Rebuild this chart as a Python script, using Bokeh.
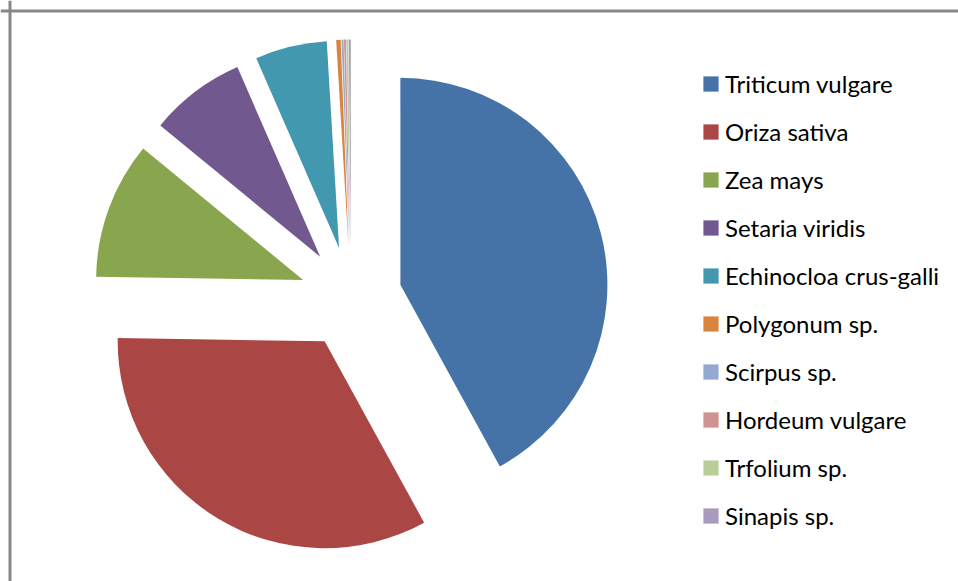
import math
from bokeh.plotting import figure
from bokeh.models import ColumnDataSource, Range1d, Span, Legend, LegendItem
from bokeh.embed import file_html
from bokeh.resources import INLINE

# ---- data (percent shares) ----
species = ["Triticum vulgare", "Oriza sativa", "Zea mays", "Setaria viridis",
           "Echinocloa crus-galli", "Polygonum sp.", "Scirpus sp.",
           "Hordeum vulgare", "Trfolium sp.", "Sinapis sp."]
shares = [42.0, 33.2, 10.7, 7.5, 5.6, 0.35, 0.15, 0.15, 0.15, 0.15]
colors = ["#4572A7", "#AA4643", "#89A54E", "#71588F", "#4198AF",
          "#DB843D", "#93A9CF", "#D19392", "#B9CD96", "#A99BBD"]

# ---- layout ----
W, H = 958, 581
CX, CY = 350.5, 284.0      # pie centre (data units = pixels)
R = 207.0                  # radius
EXPLODE = 51.0             # explosion distance

total = sum(shares)
starts, ends, xs, ys = [], [], [], []
cum = 0.0
for s in shares:
    a0 = cum / total * 2 * math.pi          # clockwise from 12 o'clock
    a1 = (cum + s) / total * 2 * math.pi
    cum += s
    mid = (a0 + a1) / 2
    starts.append(math.pi / 2 - a1)
    ends.append(math.pi / 2 - a0)
    xs.append(CX + EXPLODE * math.sin(mid))
    ys.append(CY + EXPLODE * math.cos(mid))

src = ColumnDataSource(dict(x=xs, y=ys, start=starts, end=ends,
                            color=colors, name=species))

p = figure(width=W, height=H, output_backend="svg", toolbar_location=None,
           x_range=Range1d(0, W), y_range=Range1d(0, H),
           x_axis_type=None, y_axis_type=None, min_border=0,
           outline_line_color=None, background_fill_color="white",
           border_fill_color="white")
p.grid.visible = False

r = p.wedge(x="x", y="y", radius=R, start_angle="start", end_angle="end",
            direction="anticlock", fill_color="color", line_color=None,
            source=src)

p.add_layout(Span(location=9.5, dimension="height", line_color="#888888", line_width=3))
p.add_layout(Span(location=H - 10.5, dimension="width", line_color="#888888", line_width=3))

items = [LegendItem(label=n, renderers=[r], index=i) for i, n in enumerate(species)]
legend = Legend(items=items, location=(701, 50), padding=0, margin=0,
                border_line_color=None, background_fill_alpha=0,
                glyph_width=19, glyph_height=19, label_height=31,
                spacing=17, label_standoff=5,
                label_text_font="Lato", label_text_font_size="24px",
                label_text_color="#000000", label_text_baseline="middle")
p.add_layout(legend)

open("out.html", "w").write(file_html(p, INLINE))
